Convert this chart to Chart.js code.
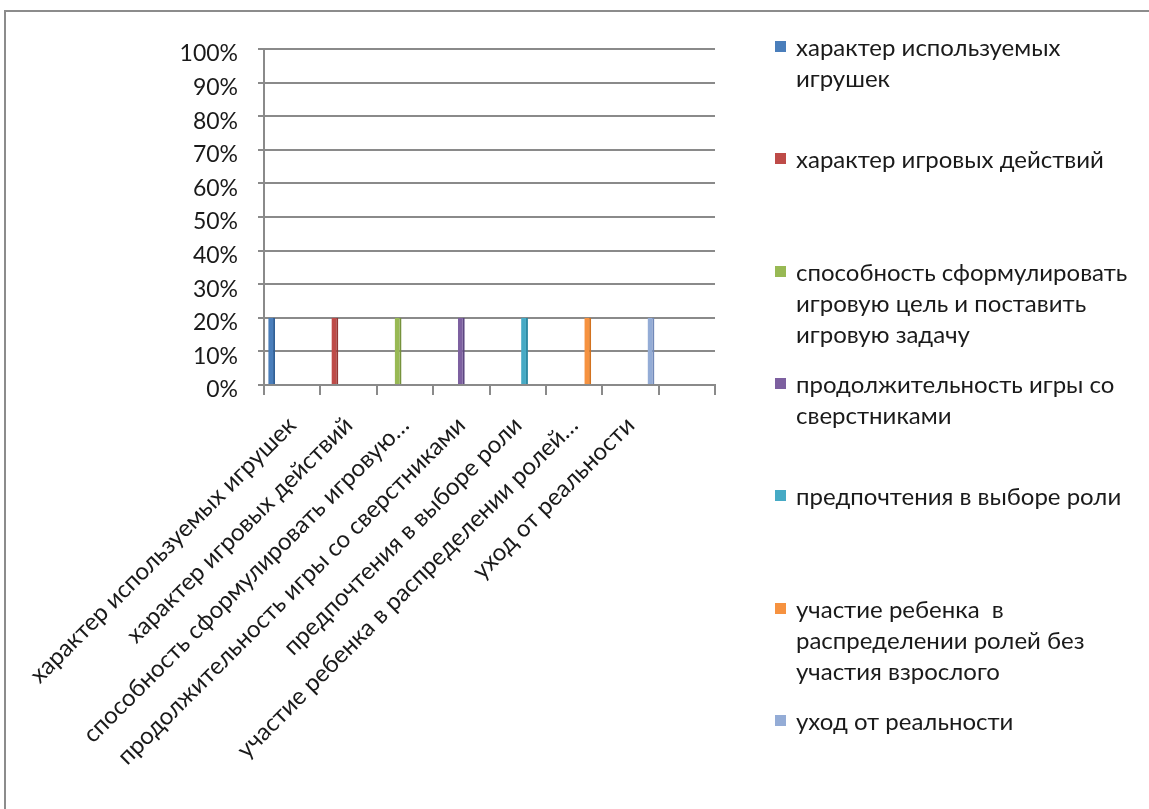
<!DOCTYPE html>
<html>
<head>
<meta charset="utf-8">
<script src="https://cdn.jsdelivr.net/npm/chart.js@4.4.0/dist/chart.umd.min.js"></script>
<style>
  html, body { margin: 0; padding: 0; background: #fff; }
  #wrap { position: relative; width: 1149px; height: 809px; overflow: hidden; }
  #frame { position: absolute; left: 4px; top: 10px; width: 1160px; height: 820px;
           border-top: 2px solid #8c8c8c; border-left: 2px solid #8c8c8c; }
  #chart { position: absolute; left: 0; top: 0; }
  #legend { position: absolute; left: 775px; top: 0; font-family: Lato, "Open Sans", sans-serif;
            font-size: 24px; color: #1a1a1a; }
  .item { position: absolute; left: 0; white-space: pre; line-height: 31px; }
  .box { position: absolute; left: 0; top: 10px; width: 11px; height: 11px; }
  .txt { position: absolute; left: 21px; top: 0; }
</style>
</head>
<body>
<div id="wrap">
  <div id="frame"></div>
  <canvas id="chart" width="1149" height="809"></canvas>
  <div id="legend"></div>
</div>
<script>
// categories / series names
const categories = [
	"характер используемых игрушек",
	"характер игровых действий",
	"способность сформулировать игровую цель и поставить игровую задачу",
	"продолжительность игры со сверстниками",
	"предпочтения в выборе роли",
	"участие ребенка  в распределении ролей без участия взрослого",
	"уход от реальности",
];
// text shown under the x axis (Excel cut the long ones), last slot is empty
const tickLabels = [
	"характер используемых игрушек",
	"характер игровых действий",
	"способность сформулировать игровую…",
	"продолжительность игры со сверстниками",
	"предпочтения в выборе роли",
	"участие ребенка в распределении ролей…",
	"уход от реальности",
	"",
];
// legend text as wrapped in the picture
const legendLines = [
	["характер используемых", "игрушек"],
	["характер игровых действий"],
	["способность сформулировать", "игровую цель и поставить", "игровую задачу"],
	["продолжительность игры со", "сверстниками"],
	["предпочтения в выборе роли"],
	["участие ребенка  в", "распределении ролей без", "участия взрослого"],
	["уход от реальности"],
];
const seriesValues = [20, 20, 20, 20, 20, 20, 20];
const colors = ["#4a7ebb", "#be4b48", "#98b954", "#7d60a0", "#46aac5", "#f69240", "#94acd6"];
const borderColors = ["#2f5f97", "#943532", "#76923c", "#5c4580", "#2e8aa3", "#d2721f", "#7189b8"];

const datasets = categories.map((name, i) => ({
	label: name,
	data: tickLabels.map((_, j) => (j === i ? seriesValues[i] : null)),
	backgroundColor: colors[i],
	borderColor: borderColors[i],
	borderWidth: { right: 2, left: 0, top: 0, bottom: 0 },
	barPercentage: 1,
	categoryPercentage: 0.85,
}));

const fontFamily = "Lato, 'Open Sans', sans-serif";
const gridColor = "#8a8a8a";

const ctx = document.getElementById("chart");
const myChart = new Chart(ctx, {
	type: "bar",
	data: { labels: tickLabels, datasets: datasets },
	options: {
		responsive: false,
		animation: false,
		layout: { padding: { top: 49, right: 434, left: 0, bottom: 0 } },
		plugins: {
			legend: { display: false },
			tooltip: { enabled: false },
		},
		scales: {
			x: {
				grid: { drawOnChartArea: false, color: gridColor, lineWidth: 2, tickLength: 10 },
				border: { color: gridColor, width: 2 },
				ticks: {
					autoSkip: false,
					minRotation: 45,
					maxRotation: 45,
					color: "#1a1a1a",
					font: { family: fontFamily, size: 24 },
					padding: 16,
				},
				afterFit: (scale) => {
					scale.height = 424;
					scale.paddingLeft = 0;
					scale.paddingRight = 0;
				},
			},
			y: {
				min: 0,
				max: 100,
				grid: { color: gridColor, lineWidth: 2, tickLength: 6 },
				border: { color: gridColor, width: 2 },
				ticks: {
					stepSize: 10,
					color: "#1a1a1a",
					font: { family: fontFamily, size: 23 },
					padding: 20,
					labelOffset: 5,
					callback: (v) => v + "%",
				},
				afterFit: (scale) => {
					scale.width = 264;
					scale.paddingTop = 0;
					scale.paddingBottom = 0;
				},
			},
		},
	},
});

// legend on the right, items evenly spaced like Excel's
const legend = document.getElementById("legend");
legendLines.forEach((lines, i) => {
	const item = document.createElement("div");
	item.className = "item";
	item.style.top = 31 + i * 112.3 + "px";
	item.innerHTML =
		'<div class="box" style="background:' + colors[i] + '"></div>' +
		'<div class="txt">' + lines.join("<br>") + "</div>";
	legend.appendChild(item);
});
</script>
</body>
</html>
